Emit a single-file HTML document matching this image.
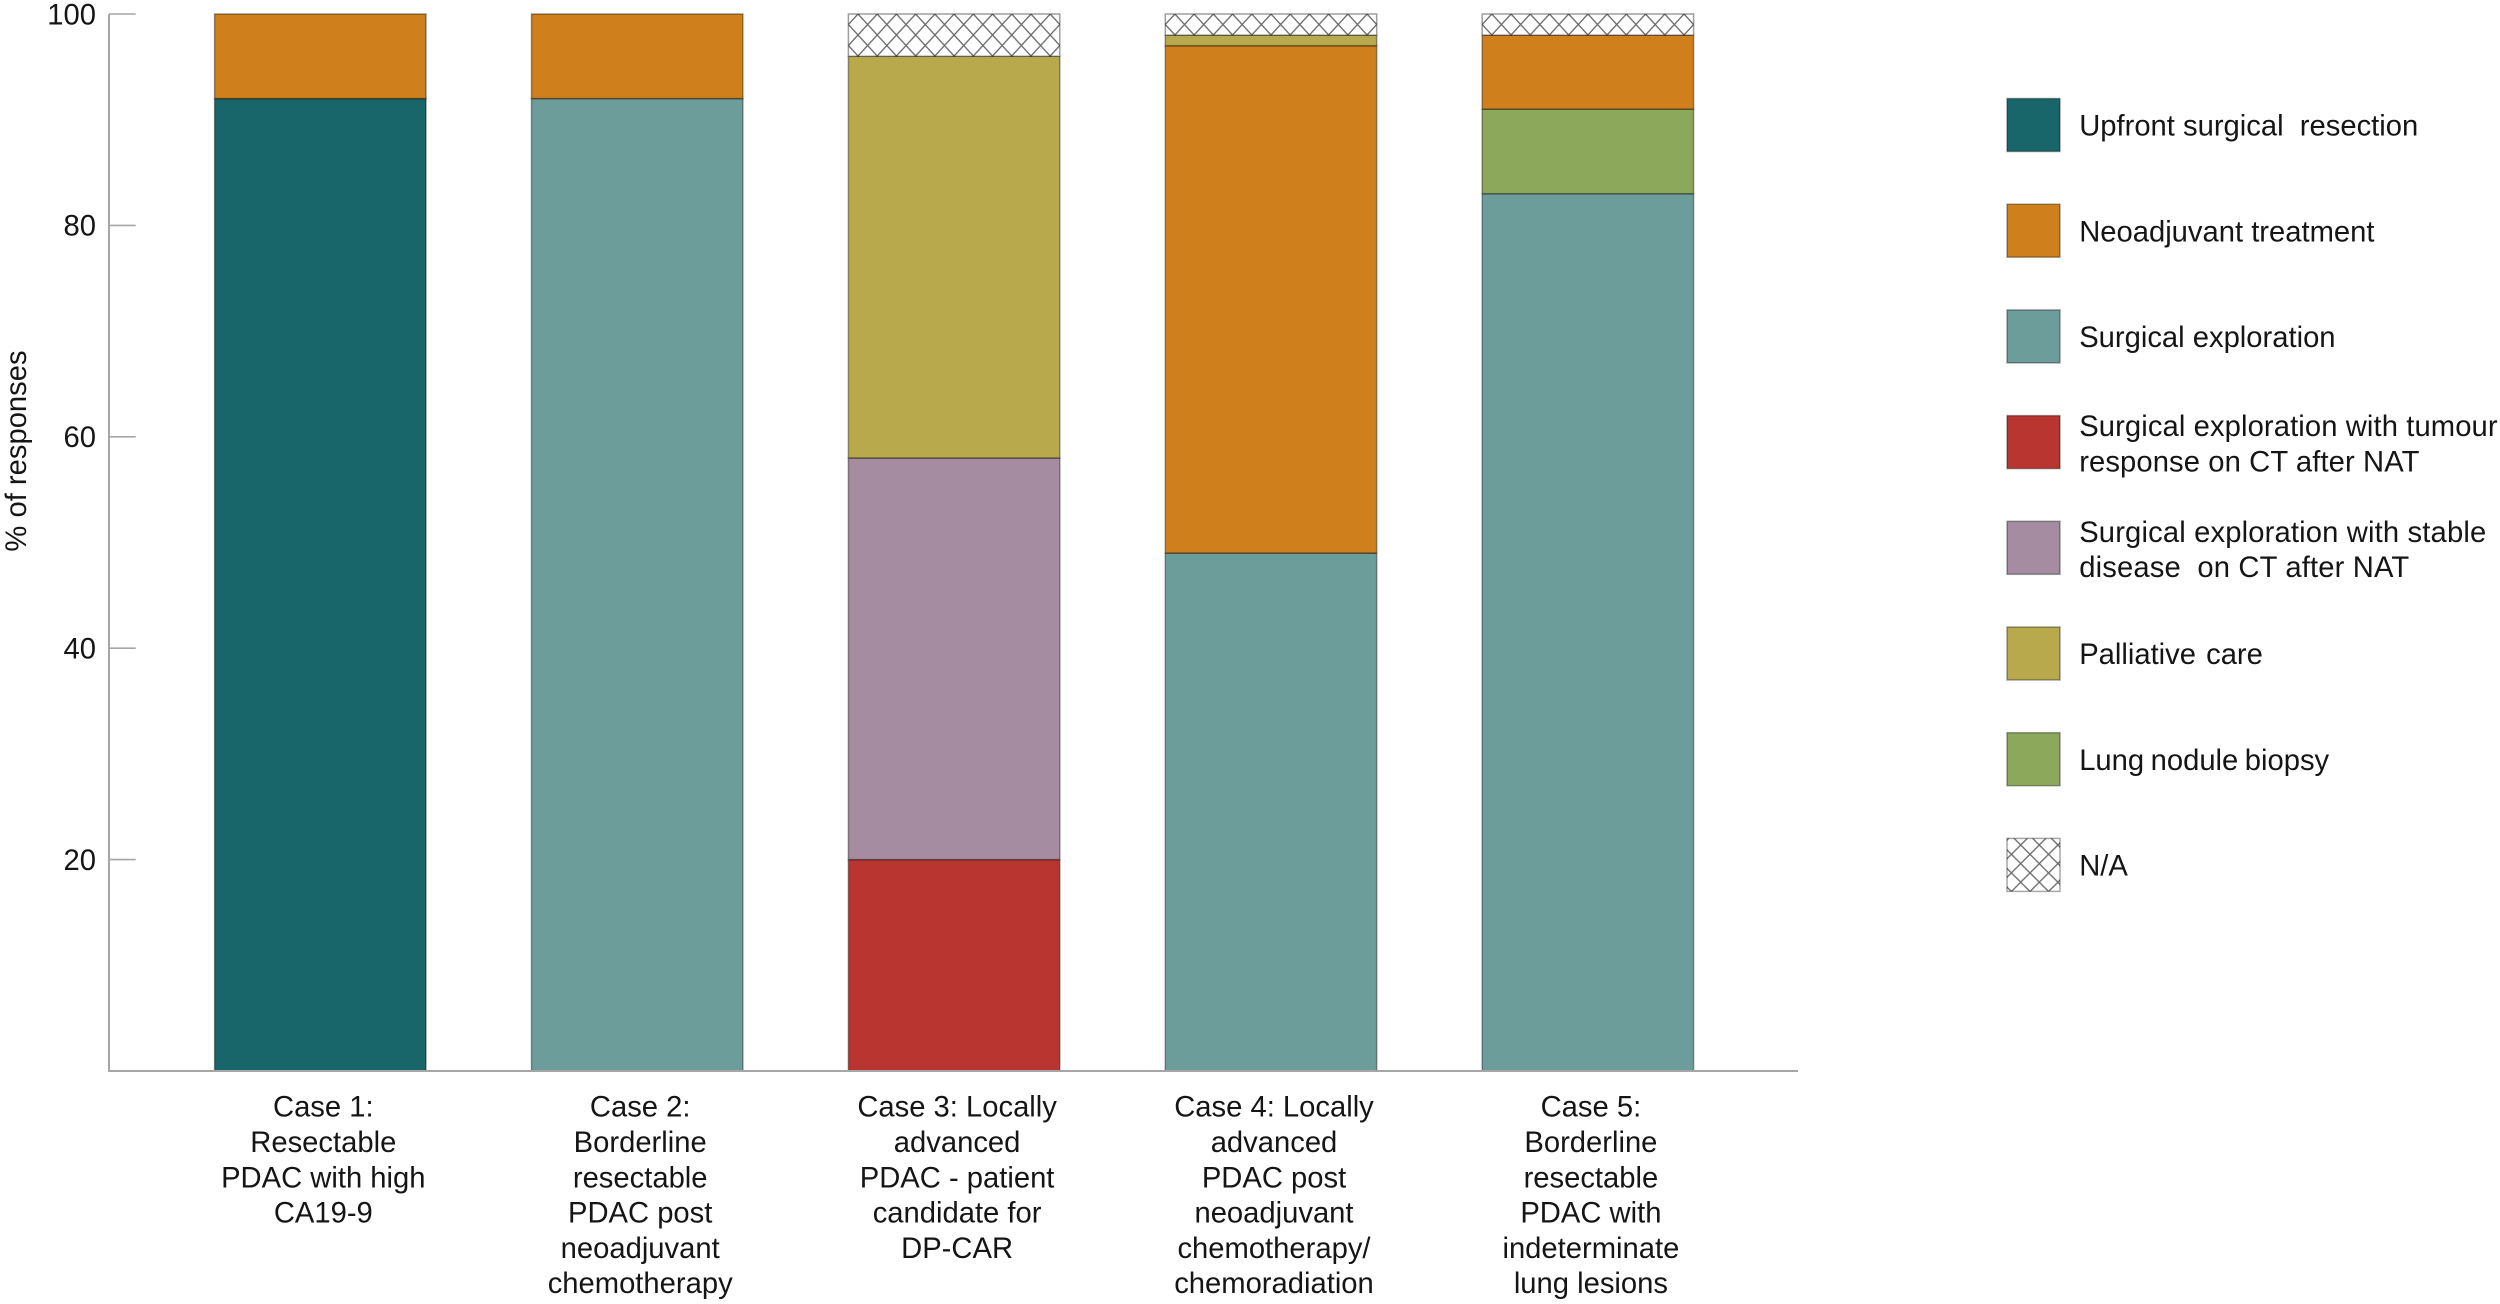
<!DOCTYPE html>
<html lang="en">
<head>
<meta charset="utf-8">
<title>Responses by case</title>
<style>
html,body{margin:0;padding:0;background:#fff;}
svg{display:block;}
text{font-family:"Liberation Sans",Arial,sans-serif;fill:#151515;font-size:29.2px;white-space:pre;}
</style>
</head>
<body>
<svg id="chart" xmlns="http://www.w3.org/2000/svg" width="2500" height="1304" viewBox="0 0 2500 1304">
  <defs id="defs">
    <pattern id="hatch-legend" patternUnits="userSpaceOnUse" width="18.6" height="18.6" x="2020.7" y="845">
      <rect width="18.6" height="18.6" fill="#fff"/>
      <path d="M0 0L18.6 18.6M0 18.6L18.6 0" stroke="#6a6a6a" stroke-width="1.3" fill="none"/>
    </pattern>
  </defs>
  <g id="bars"></g>
  <g id="axes"></g>
  <text transform="translate(26,451) rotate(-90)" text-anchor="middle">% of responses</text>
  <g id="legend"></g>
</svg>
<script>
const categories = [
  ["Case 1:", "Resectable", "PDAC with high", "CA19-9"],
  ["Case 2:", "Borderline", "resectable", "PDAC post", "neoadjuvant", "chemotherapy"],
  ["Case 3: Locally", "advanced", "PDAC - patient", "candidate for", "DP-CAR"],
  ["Case 4: Locally", "advanced", "PDAC post", "neoadjuvant", "chemotherapy/", "chemoradiation"],
  ["Case 5:", "Borderline", "resectable", "PDAC with", "indeterminate", "lung lesions"]
];
const upfrontValues    = [92, 0, 0, 0, 0];
const surgicalValues   = [0, 92, 0, 49, 83];
const tumourValues     = [0, 0, 20, 0, 0];
const stableValues     = [0, 0, 38, 0, 0];
const lungValues       = [0, 0, 0, 0, 8];
const neoValues        = [8, 8, 0, 48, 7];
const palliativeValues = [0, 0, 38, 1, 0];
const naValues         = [0, 0, 4, 2, 2];
const yTicks = [20, 40, 60, 80, 100];

const SVGNS = 'http://www.w3.org/2000/svg';
const plot = { left: 109, right: 1798, top: 14, bottom: 1071, firstCenter: 320.3, step: 316.9, barWidth: 211.4 };
const yScale = v => plot.bottom - (v / 100) * (plot.bottom - plot.top);
const xScale = i => plot.firstCenter + i * plot.step;

const stackOrder = [
  { key: 'upfront', values: upfrontValues, fill: '#19666a' },
  { key: 'surgical', values: surgicalValues, fill: '#6c9d9a' },
  { key: 'tumour', values: tumourValues, fill: '#b83530' },
  { key: 'stable', values: stableValues, fill: '#a58ca0' },
  { key: 'lung', values: lungValues, fill: '#8ca85a' },
  { key: 'neo', values: neoValues, fill: '#cf7f1c' },
  { key: 'palliative', values: palliativeValues, fill: '#b8aa4c' },
  { key: 'na', values: naValues, fill: 'hatch' }
];

const legendItems = [
  { lines: ['Upfront surgical  resection'], fill: '#19666a', name: 'upfront' },
  { lines: ['Neoadjuvant treatment'], fill: '#cf7f1c', name: 'neoadjuvant' },
  { lines: ['Surgical exploration'], fill: '#6c9d9a', name: 'surgical' },
  { lines: ['Surgical exploration with tumour', 'response on CT after NAT'], fill: '#b83530', name: 'tumour-response', letter: 0.1 },
  { lines: ['Surgical exploration with stable', 'disease  on CT after NAT'], fill: '#a58ca0', name: 'stable-disease', letter: 0.15 },
  { lines: ['Palliative care'], fill: '#b8aa4c', name: 'palliative', word: 2 },
  { lines: ['Lung nodule biopsy'], fill: '#8ca85a', name: 'lung-biopsy', word: -1.6 },
  { lines: ['N/A'], fill: 'url(#hatch-legend)', name: 'na' }
];

function make(tag, attrs, parent) {
  const el = document.createElementNS(SVGNS, tag);
  for (const k in attrs) el.setAttribute(k, attrs[k]);
  parent.appendChild(el);
  return el;
}

const defsEl = document.getElementById('defs');
function hatchFor(i, left) {
  const id = 'hatch-bar-' + i;
  const w = plot.barWidth / 11;
  const h = 21;
  const p = make('pattern', { id: id, patternUnits: 'userSpaceOnUse', width: w, height: h, x: left + w / 2, y: plot.top }, defsEl);
  make('rect', { width: w, height: h, fill: '#fff' }, p);
  make('path', { d: 'M0 0L' + w + ' ' + h + 'M0 ' + h + 'L' + w + ' 0', stroke: '#6a6a6a', 'stroke-width': '1.3', fill: 'none' }, p);
  return 'url(#' + id + ')';
}

const barsG = document.getElementById('bars');
categories.forEach((lines, i) => {
  let base = 0;
  const left = xScale(i) - plot.barWidth / 2;
  stackOrder.forEach(series => {
    const v = series.values[i];
    if (!v) return;
    const yTop = yScale(base + v);
    const yBottom = yScale(base);
    const rect = make('rect', {
      x: left,
      y: yTop,
      width: plot.barWidth,
      height: yBottom - yTop,
      fill: series.fill === 'hatch' ? hatchFor(i, left) : series.fill,
      stroke: '#000',
      'stroke-opacity': '0.38',
      'stroke-width': '1.5'
    }, barsG);
    
    
    base += v;
  });
});

const axesG = document.getElementById('axes');
const axisColor = '#a6a6a6';
const yLine = make('line', { x1: plot.left, y1: plot.top, x2: plot.left, y2: plot.bottom, stroke: axisColor, 'stroke-width': '2' }, axesG);


const xLine = make('line', { x1: plot.left - 1, y1: plot.bottom, x2: plot.right, y2: plot.bottom, stroke: axisColor, 'stroke-width': '2' }, axesG);



yTicks.forEach(t => {
  const y = yScale(t);
  const tick = make('line', { x1: plot.left, y1: y, x2: 135.7, y2: y, stroke: axisColor, 'stroke-width': '1.6' }, axesG);
  
  
  const label = make('text', { x: 96, y: y + 10.3, 'text-anchor': 'end' }, axesG);
  label.textContent = String(t);
  
  
});

categories.forEach((lines, i) => {
  const label = make('text', { 'text-anchor': 'middle' }, axesG);
  
  
  lines.forEach((line, j) => {
    const span = make('tspan', { x: xScale(i) + 3.0, y: 1116.7 + j * 35.3 }, label);
    span.textContent = line;
  });
});

const legendG = document.getElementById('legend');
legendItems.forEach((item, i) => {
  const top = 98.5 + i * 105.7;
  const entry = make('g', {}, legendG);
  
  
  const swatch = make('rect', {
    x: 2007, y: top, width: 53, height: 53,
    fill: item.fill, stroke: '#000', 'stroke-opacity': '0.35', 'stroke-width': '1.5'
  }, entry);
  
  
  const txt = make('text', {}, entry);
  
  
  if (item.letter) txt.style.letterSpacing = item.letter + 'px';
  if (item.word) txt.style.wordSpacing = item.word + 'px';
  const center = top + 26.5;
  if (item.lines.length === 1) {
    const s = make('tspan', { x: 2079.2, y: center + 10.6 }, txt);
    s.textContent = item.lines[0];
  } else {
    item.lines.forEach((line, j) => {
      const s = make('tspan', { x: 2079.2, y: center - 6 + j * 35.3 }, txt);
      s.textContent = line;
    });
  }
});
</script>
</body>
</html>
